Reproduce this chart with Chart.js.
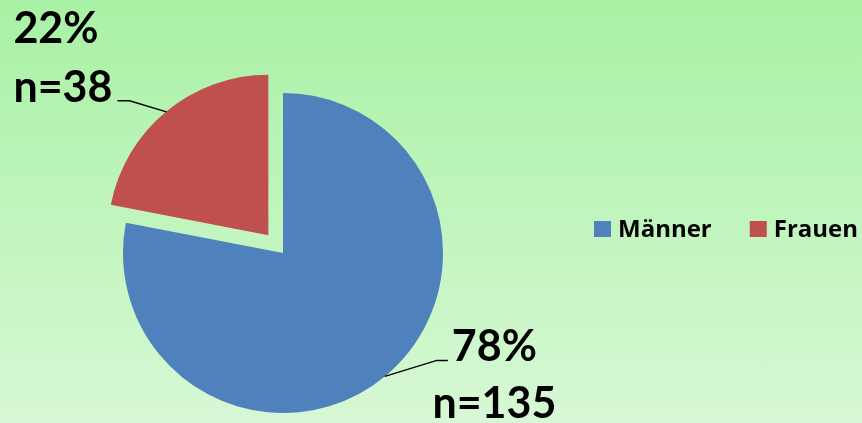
<!DOCTYPE html>
<html>
<head>
<meta charset="utf-8">
<script src="https://cdn.jsdelivr.net/npm/chart.js@4.4.1/dist/chart.umd.min.js"></script>
<style>
  html, body { margin: 0; padding: 0; }
  body {
    width: 862px; height: 423px; overflow: hidden;
    background: linear-gradient(to bottom, #a9f1a5 0%, #c2f5bf 55%, #d7f8d5 100%);
  }
  #wrap { position: relative; width: 862px; height: 423px; }
  canvas { display: block; }
</style>
</head>
<body>
<div id="wrap"><canvas id="pie" width="862" height="423"></canvas></div>
<script>
// Daten
const categories = ['Männer', 'Frauen'];
const counts = [135, 38];
const percentLabels = ['78%', '22%'];
const sliceColors = ['#4f81bd', '#c0504d'];

const labelFont = 'bold 43px Lato';
const legendFont = 'bold 24px "Open Sans"';

// Leader-Linien und Beschriftungen (wie Excel-Datenbeschriftungen)
const leaderLabels = {
  id: 'leaderLabels',
  afterDatasetsDraw(chart) {
    const ctx = chart.ctx;
    const meta = chart.getDatasetMeta(0);
    ctx.save();
    meta.data.forEach((arc, i) => {
      const off = (arc.options.offset || 0) / 4;
      const mid = (arc.startAngle + arc.endAngle) / 2;
      const cx = arc.x + Math.cos(mid) * off;
      const cy = arc.y + Math.sin(mid) * off;
      const px = cx + Math.cos(mid) * arc.outerRadius;
      const py = cy + Math.sin(mid) * arc.outerRadius;
      const left = Math.cos(mid) < 0;
      // Knick und Ende der Linie
      const bx = px + (left ? -37 : 52);
      const by = py + (left ? -11 : -16);
      const ex = bx + (left ? -12 : 11);

      ctx.strokeStyle = '#000';
      ctx.lineWidth = 1.5;
      ctx.beginPath();
      ctx.moveTo(px, py);
      ctx.lineTo(bx, by);
      ctx.lineTo(ex, by);
      ctx.stroke();

      ctx.font = labelFont;
      ctx.fillStyle = '#000';
      ctx.textBaseline = 'alphabetic';
      const nText = 'n=' + counts[i];
      if (left) {
        const w = ctx.measureText(nText).width;
        const x0 = ex - 5 - w;
        ctx.textAlign = 'left';
        ctx.fillText(nText, x0, by + 1);
        ctx.fillText(percentLabels[i], x0, by - 58);
      } else {
        const w = ctx.measureText(percentLabels[i]).width;
        const x0 = ex + 4;
        ctx.textAlign = 'left';
        ctx.fillText(percentLabels[i], x0, by + 1);
        ctx.textAlign = 'center';
        ctx.fillText(nText, x0 + w / 2, by + 58);
      }
    });
    ctx.restore();
  }
};

// Legende rechts, nebeneinander
const sideLegend = {
  id: 'sideLegend',
  afterDraw(chart) {
    const ctx = chart.ctx;
    const ds = chart.data.datasets[0];
    ctx.save();
    ctx.font = legendFont;
    ctx.textBaseline = 'middle';
    ctx.textAlign = 'left';
    let x = 594;
    const y = 229;
    chart.data.labels.forEach((label, i) => {
      ctx.fillStyle = ds.backgroundColor[i];
      ctx.fillRect(x, y - 8, 17, 16);
      ctx.fillStyle = '#000';
      ctx.fillText(label, x + 24, y + 1);
      x += 24 + ctx.measureText(label).width + 38;
    });
    ctx.restore();
  }
};

new Chart(document.getElementById('pie'), {
  type: 'pie',
  data: {
    labels: categories,
    datasets: [{
      data: counts,
      backgroundColor: sliceColors,
      borderWidth: 0,
      offset: [0, 92]
    }]
  },
  options: {
    responsive: false,
    animation: false,
    events: [],
    radius: 160,
    layout: { padding: { left: 0, right: 296, top: 83, bottom: 0 } },
    plugins: {
      legend: { display: false },
      tooltip: { enabled: false }
    }
  },
  plugins: [leaderLabels, sideLegend]
});
</script>
</body>
</html>
